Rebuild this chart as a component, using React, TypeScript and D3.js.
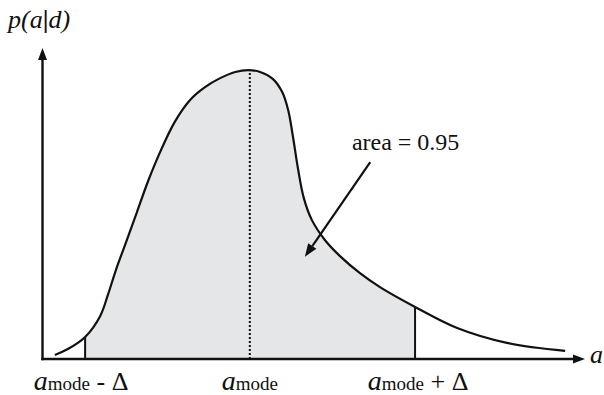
import React from 'react';
import * as d3 from 'd3';

// posterior p(a|d) (a in arbitrary units 0..10)
const curveA = [0.22, 0.46, 0.78, 1.06, 1.2, 1.35, 1.52, 1.74, 1.94, 2.17, 2.44, 2.72, 3.0, 3.28, 3.56, 3.8, 4.02, 4.26, 4.43, 4.54, 4.63, 4.72, 4.83, 4.98, 5.22, 5.5, 5.87, 6.24, 6.89, 7.67, 8.59, 9.67];
const curveP = [0.013, 0.032, 0.071, 0.139, 0.206, 0.287, 0.368, 0.474, 0.571, 0.668, 0.765, 0.835, 0.877, 0.906, 0.926, 0.932, 0.926, 0.903, 0.861, 0.803, 0.716, 0.616, 0.519, 0.448, 0.384, 0.332, 0.277, 0.232, 0.168, 0.1, 0.052, 0.026];

// interval marks: a_mode - Δ, a_mode, a_mode + Δ
const markA = [0.78, 3.83, 6.89];
const markP = [0.071, 0.93, 0.168];
const markLabels = [' - Δ', '', ' + Δ'];

const areaLabel = 'area = 0.95';
// annotation anchor (text) and arrow from/to, in data units
const annotA = [5.72, 6.06, 4.85];
const annotP = [0.675, 0.635, 0.33];

const W = 604;
const H = 395;
const serif = 'Liberation Serif, Times New Roman, DejaVu Serif, serif';
const ink = '#111';

export default function App() {
  const x = d3.scaleLinear().domain([0, 10]).range([43, 583]);
  const y = d3.scaleLinear().domain([0, 1]).range([359, 49]);

  const pts: [number, number][] = curveA.map((a, i) => [a, curveP[i]]);

  const line = d3
    .line<[number, number]>()
    .x((d) => x(d[0]))
    .y((d) => y(d[1]))
    .curve(d3.curveCatmullRom.alpha(0.5));

  const area = d3
    .area<[number, number]>()
    .x((d) => x(d[0]))
    .y0(y(0))
    .y1((d) => y(d[1]))
    .curve(d3.curveCatmullRom.alpha(0.5));

  const x0 = x(0) - 0.5;
  const y0 = y(0);
  const xEnd = 585;
  const yTop = 48;

  // arrow annotation
  const ax1 = x(annotA[1]);
  const ay1 = y(annotP[1]);
  const ax2 = x(annotA[2]);
  const ay2 = y(annotP[2]);
  const ang = Math.atan2(ay2 - ay1, ax2 - ax1);
  const hl = 13;
  const hw = 5;
  const bx = ax2 - hl * Math.cos(ang);
  const by = ay2 - hl * Math.sin(ang);
  const head = [
    [ax2, ay2],
    [bx + hw * Math.sin(ang), by - hw * Math.cos(ang)],
    [bx - hw * Math.sin(ang), by + hw * Math.cos(ang)],
  ]
    .map((p) => p.join(','))
    .join(' ');

  const txt = { fontFamily: serif, fill: ink } as React.CSSProperties;

  return (
    <svg
      width={W}
      height={H}
      style={{ position: 'absolute', left: 0, top: 0, background: '#fff' }}
    >
      <defs>
        <clipPath id="interval">
          <rect x={x(markA[0])} y={0} width={x(markA[2]) - x(markA[0])} height={H} />
        </clipPath>
      </defs>

      {/* shaded 95% region */}
      <path d={area(pts) || ''} fill="#e5e6e7" clipPath="url(#interval)" />

      {/* boundaries and mode */}
      <line x1={x(markA[0])} x2={x(markA[0])} y1={y0} y2={y(markP[0])} stroke={ink} strokeWidth={2} />
      <line x1={x(markA[2])} x2={x(markA[2])} y1={y0} y2={y(markP[2])} stroke={ink} strokeWidth={2} />
      <line
        x1={x(markA[1])}
        x2={x(markA[1])}
        y1={y0}
        y2={y(markP[1]) + 2}
        stroke={ink}
        strokeWidth={2}
        strokeDasharray="2,2"
      />

      {/* curve */}
      <path d={line(pts) || ''} fill="none" stroke={ink} strokeWidth={2.2} />

      {/* axes */}
      <line x1={x0} x2={x0} y1={y0 + 1.2} y2={yTop + 10} stroke={ink} strokeWidth={2.4} />
      <polygon points={`${x0},${yTop} ${x0 - 4.5},${yTop + 12} ${x0 + 4.5},${yTop + 12}`} fill={ink} />
      <line x1={x0 - 1.2} x2={xEnd - 10} y1={y0} y2={y0} stroke={ink} strokeWidth={2.4} />
      <polygon points={`${xEnd},${y0} ${xEnd - 12},${y0 - 4.5} ${xEnd - 12},${y0 + 4.5}`} fill={ink} />

      {/* axis titles */}
      <text x={8} y={28} style={{ ...txt, fontSize: 26 }}>
        <tspan style={{ fontStyle: 'italic' }}>p(a</tspan>
        <tspan style={{ fontWeight: 'bold' }}>|</tspan>
        <tspan style={{ fontStyle: 'italic' }}>d)</tspan>
      </text>
      <text x={590} y={363} style={{ ...txt, fontSize: 26, fontStyle: 'italic' }}>
        a
      </text>

      {/* tick labels */}
      {markA.map((a, i) => (
        <text
          key={i}
          x={x(a) + (i === 0 ? -4 : i === 2 ? 3 : 0)}
          y={390}
          textAnchor="middle"
          style={txt}
        >
          <tspan style={{ fontSize: 28, fontStyle: 'italic' }}>a</tspan>
          <tspan style={{ fontSize: 19 }}>mode</tspan>
          {markLabels[i] && <tspan style={{ fontSize: 26 }}>{markLabels[i]}</tspan>}
        </text>
      ))}

      {/* annotation */}
      <text x={x(annotA[0])} y={y(annotP[0])} style={{ ...txt, fontSize: 24 }}>
        {areaLabel}
      </text>
      <line x1={ax1} y1={ay1} x2={bx} y2={by} stroke={ink} strokeWidth={2.2} />
      <polygon points={head} fill={ink} />
    </svg>
  );
}
